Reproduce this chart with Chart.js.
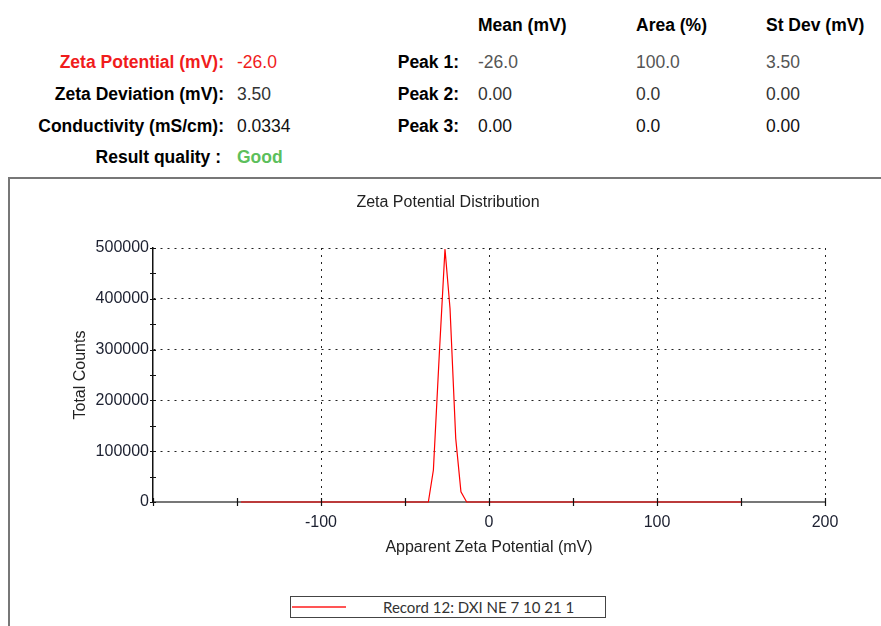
<!DOCTYPE html>
<html>
<head>
<meta charset="utf-8">
<script src="https://cdn.jsdelivr.net/npm/chart.js@4.4.0/dist/chart.umd.min.js"></script>
<style>
    html, body { margin: 0; padding: 0; background: #fff; overflow: hidden; width: 881px; height: 626px; }
    body { position: relative; font-family: 'Liberation Sans', Arial, sans-serif; }
    .t { position: absolute; font-size: 17.5px; line-height: 20px; white-space: nowrap; transform: translateY(-9px); }
    .b { font-weight: bold; color: #000; }
    .r { text-align: right; }
    #frame { position: absolute; left: 8px; top: 177px; width: 900px; height: 500px; border: 2px solid #777; box-sizing: border-box; }
    #chart-wrap { position: absolute; left: 9px; top: 178px; width: 881px; height: 410px; }
    #legend { position: absolute; left: 290px; top: 596px; width: 316px; height: 22px; border: 1.5px solid #444; box-sizing: border-box; background: #fff; }
    #legend .swatch { position: absolute; left: 1px; top: 9px; width: 54px; height: 1.5px; background: #f55; }
    #legend .label { position: absolute; left: 92px; top: 1px; font-family: Lato, 'Open Sans', sans-serif; font-size: 15px; color: #333; white-space: nowrap; }
</style>
</head>
<body>

<!-- result summary -->
<div class="t b" style="left:478px; top:24px;">Mean (mV)</div>
<div class="t b" style="left:636px; top:24px;">Area (%)</div>
<div class="t b" style="left:766px; top:24px;">St Dev (mV)</div>

<div class="t b r" style="right:657px; top:61px; color:#f01c1c;">Zeta Potential (mV):</div>
<div class="t" style="left:237px; top:61px; color:#f01c1c;">-26.0</div>
<div class="t b r" style="right:422px; top:61px;">Peak 1:</div>
<div class="t" style="left:478px; top:61px; color:#555;">-26.0</div>
<div class="t" style="left:636px; top:61px; color:#555;">100.0</div>
<div class="t" style="left:766px; top:61px; color:#555;">3.50</div>

<div class="t b r" style="right:657px; top:93px;">Zeta Deviation (mV):</div>
<div class="t" style="left:237px; top:93px; color:#333;">3.50</div>
<div class="t b r" style="right:422px; top:93px;">Peak 2:</div>
<div class="t" style="left:478px; top:93px; color:#333;">0.00</div>
<div class="t" style="left:636px; top:93px; color:#333;">0.0</div>
<div class="t" style="left:766px; top:93px; color:#333;">0.00</div>

<div class="t b r" style="right:657px; top:125px;">Conductivity (mS/cm):</div>
<div class="t" style="left:237px; top:125px; color:#111;">0.0334</div>
<div class="t b r" style="right:422px; top:125px;">Peak 3:</div>
<div class="t" style="left:478px; top:125px; color:#111;">0.00</div>
<div class="t" style="left:636px; top:125px; color:#111;">0.0</div>
<div class="t" style="left:766px; top:125px; color:#111;">0.00</div>

<div class="t b r" style="right:660px; top:156px;">Result quality :</div>
<div class="t b" style="left:237px; top:156px; color:#5cbf5c;">Good</div>

<div id="frame"></div>
<div id="chart-wrap"><canvas id="zeta-chart" width="881" height="410"></canvas></div>
<div id="legend"><div class="swatch"></div><div class="label">Record 12: DXI NE 7 10 21 1</div></div>

<script>
// Zeta potential distribution (mV vs total counts)
const zetaMv = [-147.6, -36.1, -33.1, -29.6, -26.2, -23.2, -19.8, -16.7, -13.3, 150.0];
const totalCounts = [0, 0, 63000, 290000, 498000, 381000, 125000, 20000, 0, 0];

const xTicks = [-200, -100, 0, 100, 200];
const xTickLabels = ['', '-100', '0', '100', '200'];
const xMinorTicks = [-200, -150, -100, -50, 0, 50, 100, 150, 200];
const yTicks = [0, 100000, 200000, 300000, 400000, 500000];
const yTickLabels = ['0', '100000', '200000', '300000', '400000', '500000'];
const yMinorTicks = [0, 50000, 100000, 150000, 200000, 250000, 300000, 350000, 400000, 450000, 500000];

const fontFamily = "'Liberation Sans', Arial, sans-serif";

// short tick marks crossing the axes
const crossTicks = {
    id: 'crossTicks',
    afterDatasetsDraw(chart) {
        const ctx = chart.ctx;
        const x = chart.scales.x;
        const y = chart.scales.y;
        const area = chart.chartArea;
        ctx.save();
        ctx.strokeStyle = '#111';
        ctx.lineWidth = 1.2;
        ctx.beginPath();
        xMinorTicks.forEach(v => {
            const px = Math.round(x.getPixelForValue(v)) + 0.5;
            ctx.moveTo(px, area.bottom - 4);
            ctx.lineTo(px, area.bottom + 4);
        });
        yMinorTicks.forEach(v => {
            const py = Math.round(y.getPixelForValue(v)) + 0.5;
            ctx.moveTo(area.left - 3, py);
            ctx.lineTo(area.left + 3, py);
        });
        ctx.stroke();
        ctx.restore();
    }
};

function renderZetaChart() {
    const ctx = document.getElementById('zeta-chart');

    new Chart(ctx, {
        type: 'line',
        data: {
            datasets: [{
                label: 'Record 12: DXI NE 7 10 21 1',
                data: zetaMv.map((v, i) => ({ x: v, y: totalCounts[i] })),
                borderColor: '#ff0000',
                borderWidth: 1.2,
                pointRadius: 0,
                tension: 0,
                fill: false,
                clip: false
            }]
        },
        options: {
            responsive: false,
            animation: false,
            layout: {
                padding: { left: 62, right: 65, top: 0, bottom: 30.4 }
            },
            plugins: {
                legend: { display: false },
                tooltip: { enabled: false },
                title: {
                    display: true,
                    text: 'Zeta Potential Distribution',
                    color: '#222',
                    font: { family: fontFamily, size: 16, weight: 'normal' },
                    padding: { top: 15, bottom: 35.8 }
                }
            },
            scales: {
                x: {
                    type: 'linear',
                    min: -200,
                    max: 200,
                    afterBuildTicks: scale => { scale.ticks = xTicks.map(v => ({ value: v })); },
                    afterFit: scale => { scale.height = 55.6; },
                    ticks: {
                        color: '#1c2030',
                        padding: 11,
                        maxRotation: 0,
                        font: { family: fontFamily, size: 16 },
                        callback: (v, i) => xTickLabels[i]
                    },
                    grid: {
                        drawTicks: false,
                        color: c => (c.tick && c.tick.value === -200) ? 'rgba(0,0,0,0)' : '#222',
                        lineWidth: 1
                    },
                    border: { display: true, color: '#777', width: 2, dash: [2, 5] },
                    title: {
                        display: true,
                        text: 'Apparent Zeta Potential (mV)',
                        color: '#222',
                        padding: 0,
                        font: { family: fontFamily, size: 16 }
                    }
                },
                y: {
                    min: 0,
                    max: 500000,
                    afterBuildTicks: scale => { scale.ticks = yTicks.map(v => ({ value: v })); },
                    afterFit: scale => { scale.width = 82; },
                    ticks: {
                        color: '#1c2030',
                        padding: 4,
                        font: { family: fontFamily, size: 16 },
                        callback: (v, i) => yTickLabels[i]
                    },
                    grid: {
                        drawTicks: false,
                        color: c => (c.tick && c.tick.value === 0) ? 'rgba(0,0,0,0)' : '#222',
                        lineWidth: 1
                    },
                    border: { display: true, color: '#111', width: 1.5, dash: [2, 5] },
                    title: {
                        display: true,
                        text: 'Total Counts',
                        color: '#222',
                        padding: 0,
                        font: { family: fontFamily, size: 16 }
                    }
                }
            }
        },
        plugins: [crossTicks]
    });
}

renderZetaChart();
</script>
</body>
</html>
